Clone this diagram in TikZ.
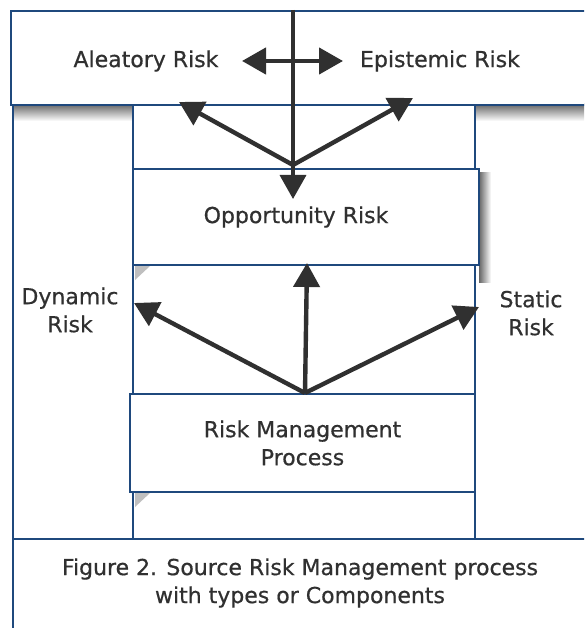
\documentclass[tikz,border=0pt]{standalone}
\usepackage{fontspec}
\setmainfont{DejaVu Sans}[BoldFont=DejaVu Sans,BoldFeatures={FakeBold=0.6}]
\usetikzlibrary{arrows.meta,positioning}
\definecolor{frameblue}{RGB}{31,73,125}
\definecolor{inkgray}{RGB}{48,48,48}
\tikzset{box/.style={rectangle,draw=frameblue,line width=1.8pt,fill=white,inner sep=0pt,
                     text=inkgray,align=center,font=\fontsize{22}{28}\selectfont\bfseries},
         frame/.style={draw=frameblue,line width=1.8pt},
         word/.style={rectangle,text=inkgray,align=center,inner sep=0pt,font=\fontsize{22}{28}\selectfont\bfseries},
         flow/.style={draw=inkgray,line width=4.4pt,-{Triangle[length=24pt,width=26pt]}},
         both ways/.style={draw=inkgray,line width=4.4pt,{Triangle[length=24pt,width=26pt]}-{Triangle[length=24pt,width=26pt]}},
         smudge/.style={fill=black!25,draw=none}
}

\begin{document}
\begin{tikzpicture}[x=1pt,y=-1pt]
\useasboundingbox (0,0) rectangle (584,628);
\clip (0,0) rectangle (584,628);

% soft shadows
\shade[top color=black!60,bottom color=white] (13,104) rectangle (600,121);
\shade[left color=black!60,right color=white] (479,173) rectangle (491,282);

% column and outer frame
\draw[frame,fill=white] (133,104) rectangle (475,539);
\draw[frame] (13,104) -- (13,640);
\draw[frame] (13,539) -- (600,539);
\fill[smudge] (135,266) -- (150,266) -- (135,280) -- cycle;
\fill[smudge] (135,493) -- (150,493) -- (135,507) -- cycle;

% boxes
\node[box,anchor=north west,minimum width=600pt,minimum height=94pt] (src) at (10,10) {};
\node[box,minimum width=346pt,minimum height=96pt] (opp) at (306,217) {Opportunity Risk\hspace*{20pt}};
\node[box,minimum width=345pt,minimum height=98pt] (rmp) at (302.5,443) {Risk Management\\Process};

\node[word] (ale) at (146,61) {Aleatory Risk};
\node[word] (epi) at (440,61) {Epistemic Risk};
\node[word] (dyn) at (70,310) {Dynamic\\Risk};
\node[word] (sta) at (531,313) {Static\\Risk};
\node[word] (cap) at (300,583) {Figure 2. Source Risk Management process\\with types or Components};

\coordinate (stem) at (293,10);
\coordinate (hub) at (293,165);
\coordinate (drop) at (293,199);
\coordinate (aletip) at (179,102);
\coordinate (epitip) at (413,98);
\coordinate (west) at (242,61);
\coordinate (east) at (343,61);
\coordinate (base) at (305,393);
\coordinate (opptip) at (307,263);
\coordinate (dyntip) at (134,303);
\coordinate (statip) at (479,307);

% arrows
\draw[both ways] (west) -- (east);
\draw[flow,line width=3.6pt] (stem) -- (hub) -- (drop);
\draw[flow] (hub) -- (aletip);
\draw[flow] (hub) -- (epitip);
\draw[flow] (base) -- (opptip);
\draw[flow] (base) -- (dyntip);
\draw[flow] (base) -- (statip);
\end{tikzpicture}
\end{document}
